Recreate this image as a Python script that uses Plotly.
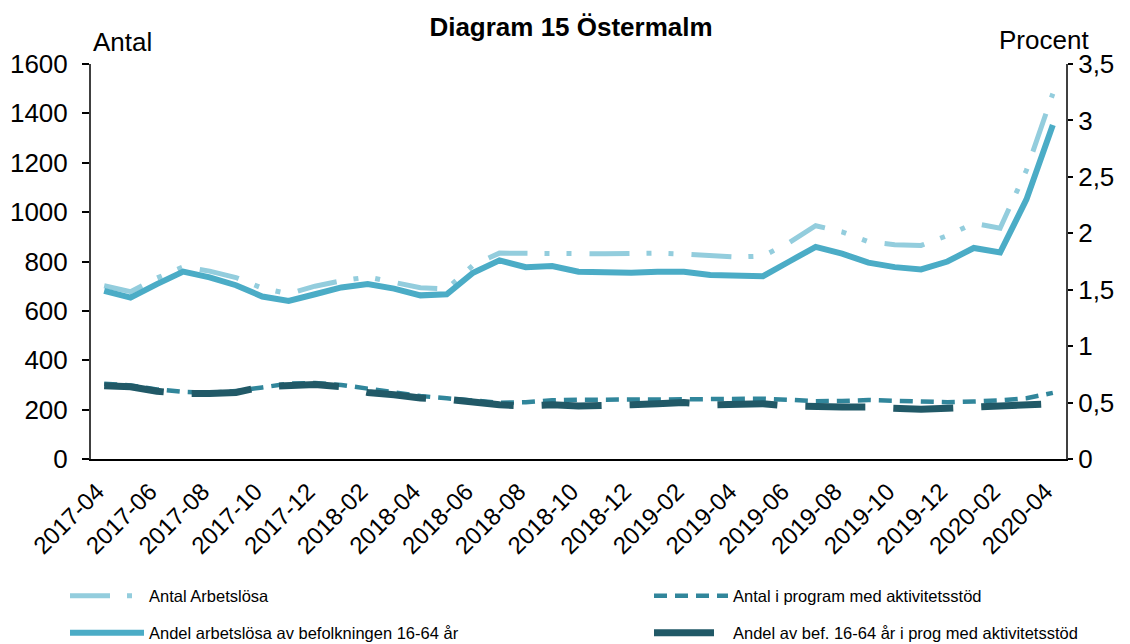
import plotly.graph_objects as go

months = ["2017-04", "2017-05", "2017-06", "2017-07", "2017-08", "2017-09", "2017-10",
          "2017-11", "2017-12", "2018-01", "2018-02", "2018-03", "2018-04", "2018-05",
          "2018-06", "2018-07", "2018-08", "2018-09", "2018-10", "2018-11", "2018-12",
          "2019-01", "2019-02", "2019-03", "2019-04", "2019-05", "2019-06", "2019-07",
          "2019-08", "2019-09", "2019-10", "2019-11", "2019-12", "2020-01", "2020-02",
          "2020-03", "2020-04"]

tick_labels = ["2017-04", "2017-06", "2017-08", "2017-10", "2017-12", "2018-02", "2018-04",
               "2018-06", "2018-08", "2018-10", "2018-12", "2019-02", "2019-04", "2019-06",
               "2019-08", "2019-10", "2019-12", "2020-02", "2020-04"]

antal_arbetslosa = [702, 678, 733, 778, 761, 735, 692, 669, 700, 722, 737, 715, 694, 689,
                    785, 834, 834, 837, 832, 831, 833, 834, 830, 822, 818, 822, 877, 945,
                    920, 880, 868, 865, 905, 955, 935, 1170, 1480]

antal_program = [305, 298, 282, 272, 268, 275, 290, 305, 308, 300, 285, 270, 255, 246,
                 238, 228, 230, 238, 240, 239, 240, 241, 242, 243, 243, 244, 240, 234,
                 235, 239, 236, 231, 230, 233, 237, 246, 268]

andel_arbetslosa = [1.49, 1.43, 1.55, 1.66, 1.61, 1.54, 1.44, 1.40, 1.46, 1.52, 1.55, 1.51,
                    1.45, 1.46, 1.65, 1.76, 1.70, 1.71, 1.66, 1.65, 1.65, 1.66, 1.66, 1.63,
                    1.63, 1.62, 1.75, 1.88, 1.82, 1.74, 1.70, 1.68, 1.75, 1.87, 1.83, 2.30,
                    2.96]

andel_program = [0.65, 0.64, 0.60, 0.58, 0.58, 0.59, 0.64, 0.65, 0.66, 0.64, 0.59, 0.57,
                 0.54, 0.53, 0.50, 0.48, 0.47, 0.48, 0.47, 0.47, 0.48, 0.49, 0.50, 0.48,
                 0.48, 0.49, 0.47, 0.46, 0.46, 0.46, 0.45, 0.44, 0.45, 0.46, 0.47, 0.48,
                 0.49]

left_ticks = [0, 200, 400, 600, 800, 1000, 1200, 1400, 1600]
right_ticks = [0, 0.5, 1, 1.5, 2, 2.5, 3, 3.5]
right_tick_text = ["0", "0,5", "1", "1,5", "2", "2,5", "3", "3,5"]

names = ["Antal Arbetslösa", "Antal i program med aktivitetsstöd",
         "Andel arbetslösa av befolkningen 16-64 år",
         "Andel av bef. 16-64 år i prog med aktivitetsstöd"]

FONT = "Liberation Sans, Arial, sans-serif"
n = len(months)

fig = go.Figure()
fig.add_trace(go.Scatter(x=months, y=antal_arbetslosa, name=names[0], mode="lines",
                         line=dict(color="#93CDDD", width=5, dash="40px,17px,5px,17px,5px,18px"),
                         xaxis="x", yaxis="y", legend="legend"))
fig.add_trace(go.Scatter(x=months, y=antal_program, name=names[1], mode="lines",
                         line=dict(color="#31869B", width=4.5, dash="13px,8px"),
                         xaxis="x", yaxis="y", legend="legend2"))
fig.add_trace(go.Scatter(x=months, y=andel_arbetslosa, name=names[2], mode="lines",
                         line=dict(color="#4BACC6", width=6),
                         xaxis="x", yaxis="y2", legend="legend3"))
fig.add_trace(go.Scatter(x=months, y=andel_program, name=names[3], mode="lines",
                         line=dict(color="#215967", width=7, dash="60px,28px"),
                         xaxis="x", yaxis="y2", legend="legend4"))

boundaries = [k - 0.5 for k in range(0, n, 2)]

tickfont = dict(family=FONT, size=26, color="#000000")

fig.update_layout(
    width=1130, height=644,
    margin=dict(l=91, r=64, t=64, b=185, autoexpand=False),
    paper_bgcolor="white", plot_bgcolor="white",
    font=dict(family=FONT, color="#000000"),
    showlegend=True,
    title=dict(text="<b>Diagram 15 Östermalm</b>", x=571 / 1130, xref="container",
               xanchor="center", y=1 - 27 / 644, yref="container", yanchor="middle",
               font=dict(family=FONT, size=26, color="#000000")),
    xaxis=dict(type="category", range=[-0.5, n - 0.5], tickmode="array",
               tickvals=tick_labels, ticktext=tick_labels, tickangle=-45,
               tickfont=dict(family=FONT, size=24, color="#000000"),
               ticks="", showgrid=False, showline=True, linecolor="#000000", linewidth=2,
               zeroline=False, ticklabelstandoff=7, ticklabelshift=-7, automargin=False),
    xaxis2=dict(overlaying="x", anchor="y", range=[-0.5, n - 0.5], tickmode="array",
                tickvals=boundaries, showticklabels=False, ticks="outside", ticklen=7,
                tickcolor="#000000", tickwidth=1.5, showgrid=True, gridcolor="#BFBFBF",
                griddash="dot", gridwidth=1, showline=False, zeroline=False,
                automargin=False),
    xaxis3=dict(overlaying="x", anchor="y", side="top", range=[-0.5, n - 0.5],
                showticklabels=False, ticks="", showgrid=False, showline=True,
                linecolor="#8C8C8C", linewidth=2, zeroline=False, automargin=False),
    yaxis=dict(range=[0, 1600], tickmode="array", tickvals=left_ticks, tickfont=tickfont,
               ticks="outside", ticklen=7, tickcolor="#000000", tickwidth=1.5,
               showgrid=False, showline=True, linecolor="#404040", linewidth=2,
               zeroline=False, ticklabelstandoff=9, anchor="x", automargin=False),
    yaxis2=dict(overlaying="y", side="right", anchor="x", range=[0, 3.5], tickmode="array",
                tickvals=right_ticks, ticktext=right_tick_text, tickfont=tickfont,
                ticks="outside", ticklen=5, tickcolor="#000000", tickwidth=1.5,
                showgrid=False, showline=True, linecolor="#404040", linewidth=2,
                zeroline=False, automargin=False),
    yaxis3=dict(overlaying="y", side="left", anchor="x", range=[0, 1600], tickmode="array",
                tickvals=left_ticks, showticklabels=False, ticks="inside", ticklen=7,
                tickcolor="#000000", tickwidth=1.5, showgrid=False, showline=False,
                zeroline=False, automargin=False),
    yaxis4=dict(overlaying="y", side="right", anchor="x", range=[0, 3.5], tickmode="array",
                tickvals=right_ticks, showticklabels=False, ticks="inside", ticklen=7,
                tickcolor="#000000", tickwidth=1.5, showgrid=False, showline=False,
                zeroline=False, automargin=False),
    annotations=[
        dict(text="Antal", xref="paper", yref="paper", x=0.0002, y=1.056, xanchor="left",
             yanchor="middle", showarrow=False, font=dict(family=FONT, size=26, color="#000000")),
        dict(text="Procent", xref="paper", yref="paper", x=1.0256, y=1.061, xanchor="right",
             yanchor="middle", showarrow=False, font=dict(family=FONT, size=26, color="#000000")),
    ],
)

legfont = dict(family=FONT, size=16.5, color="#000000")
leg_common = dict(xref="container", yref="container", xanchor="left", yanchor="middle",
                  orientation="h", font=legfont, itemwidth=74, bgcolor="rgba(0,0,0,0)",
                  borderwidth=0, itemclick=False, itemdoubleclick=False)
fig.update_layout(
    legend=dict(x=65 / 1130, y=(644 - 596) / 644, **leg_common),
    legend2=dict(x=649 / 1130, y=(644 - 596) / 644, **leg_common),
    legend3=dict(x=65 / 1130, y=(644 - 633) / 644, **leg_common),
    legend4=dict(x=649 / 1130, y=(644 - 633) / 644, **leg_common),
)

fig.write_html("out.html", config={"displayModeBar": False},
               post_script="document.body.style.margin='0px';document.body.style.overflow='hidden';")
